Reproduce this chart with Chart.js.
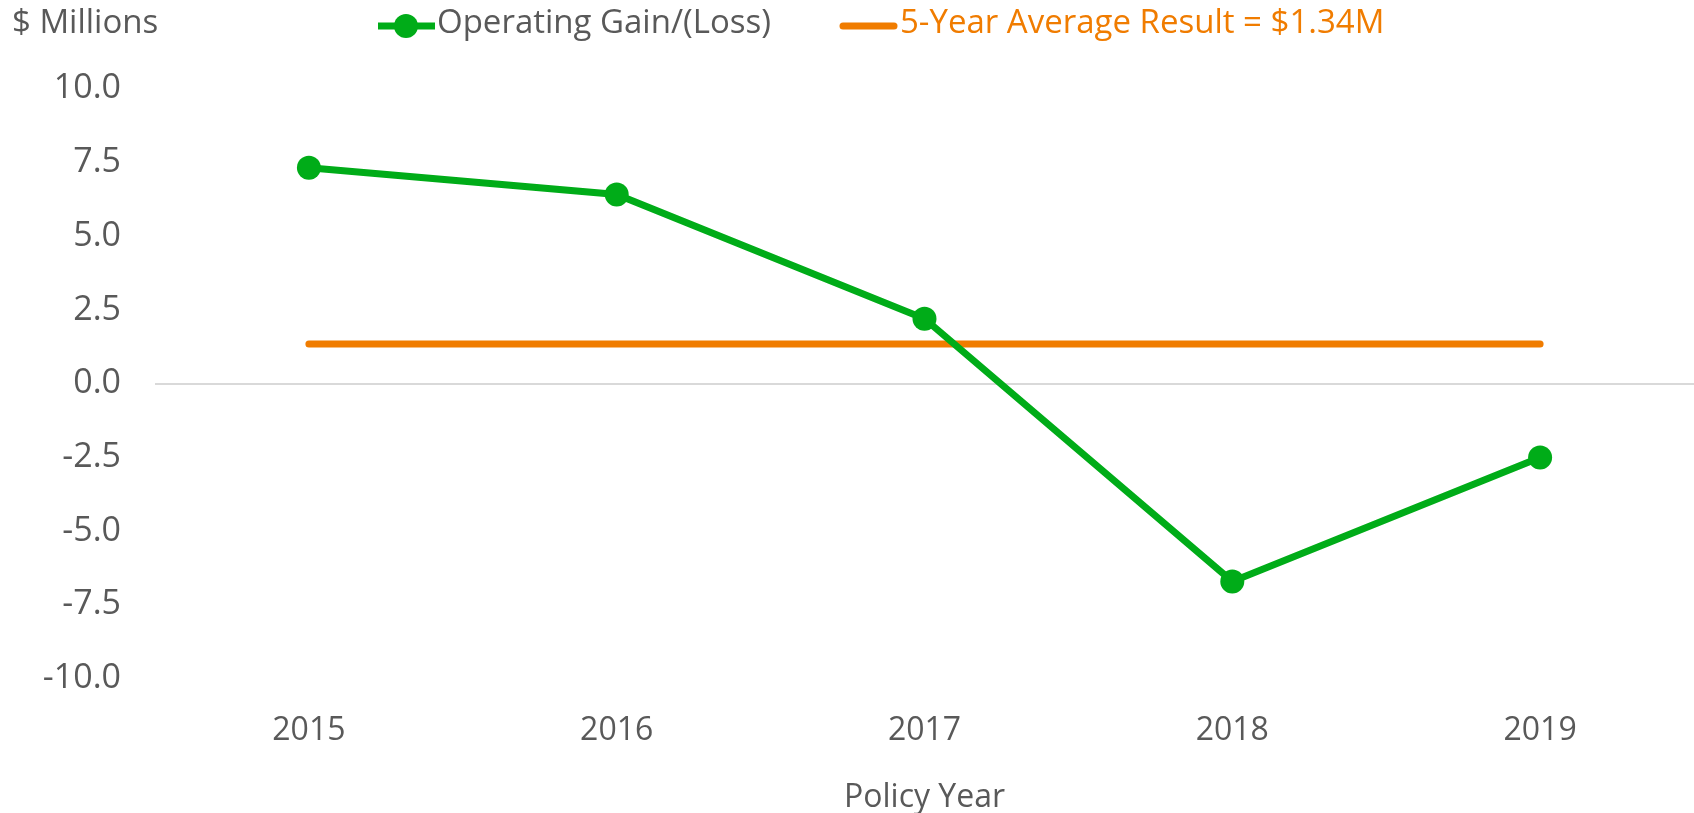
<!DOCTYPE html>
<html>
<head>
<meta charset="utf-8">
<script src="https://cdn.jsdelivr.net/npm/chart.js@4"></script>
<style>
  body { margin: 0; background: #fff; }
  #wrap { width: 1694px; height: 813px; }
</style>
</head>
<body>
<div id="wrap"><canvas id="chart" width="1694" height="813"></canvas></div>
<script>
// values
const years = ["2015", "2016", "2017", "2018", "2019"];
const operatingGain = [7.32, 6.41, 2.2, -6.71, -2.51];
const fiveYearAvg = [1.34, 1.34, 1.34, 1.34, 1.34];
const yTicks = [10, 7.5, 5, 2.5, 0, -2.5, -5, -7.5, -10];

const GREEN = "#00ac18";
const ORANGE = "#f07c00";
const GREY = "#595959";
const FONT = "'Open Sans', sans-serif";

// draws the "$ Millions" label and the legend at the top
const topText = {
  id: "topText",
  afterDraw(chart) {
    const c = chart.ctx;
    c.save();
    c.textBaseline = "middle";
    c.font = "33px " + FONT;
    c.fillStyle = GREY;
    c.fillText("$ Millions", 12, 24);

    // green line + marker
    c.strokeStyle = GREEN;
    c.lineWidth = 7;
    c.beginPath();
    c.moveTo(378, 26);
    c.lineTo(435, 26);
    c.stroke();
    c.fillStyle = GREEN;
    c.beginPath();
    c.arc(406, 26, 12, 0, Math.PI * 2);
    c.fill();
    c.fillStyle = GREY;
    c.fillText("Operating Gain/(Loss)", 437, 24);

    // orange line
    c.strokeStyle = ORANGE;
    c.lineCap = "round";
    c.beginPath();
    c.moveTo(843, 26);
    c.lineTo(894, 26);
    c.stroke();
    c.fillStyle = ORANGE;
    c.fillText("5-Year Average Result = $1.34M", 900, 24);
    c.restore();
  }
};

const ctx = document.getElementById("chart");

const myChart = new Chart(ctx, {
  type: "line",
  data: {
    labels: years,
    datasets: [
      {
        label: "5-Year Average Result = $1.34M",
        data: fiveYearAvg,
        borderColor: ORANGE,
        borderWidth: 7,
        borderCapStyle: "round",
        pointRadius: 0,
        pointHoverRadius: 0,
        order: 2,
      },
      {
        label: "Operating Gain/(Loss)",
        data: operatingGain,
        borderColor: GREEN,
        backgroundColor: GREEN,
        borderWidth: 7,
        pointRadius: 12,
        pointHoverRadius: 12,
        pointBorderWidth: 0,
        order: 1,
      },
    ],
  },
  options: {
    responsive: false,
    animation: false,
    layout: { autoPadding: false, padding: { top: 88.6, right: 0, left: 0, bottom: 0 } },
    plugins: {
      legend: { display: false },
      tooltip: { enabled: false },
    },
    scales: {
      x: {
        offset: true,
        grid: { display: false, drawTicks: false },
        border: { display: false },
        ticks: { color: GREY, font: { family: FONT, size: 32 }, padding: 33 },
        title: {
          display: true,
          text: "Policy Year",
          color: GREY,
          font: { family: FONT, size: 32 },
          padding: { top: 0, bottom: -4 },
        },
        afterFit(scale) {
          scale.height = 134.5;
          scale.paddingLeft = 0;
          scale.paddingRight = 0;
        },
      },
      y: {
        min: -10,
        max: 10,
        afterBuildTicks(scale) { scale.ticks = yTicks.map(v => ({ value: v })); },
        grid: {
          drawTicks: false,
          color: (c) => (c.tick && c.tick.value === 0 ? "#d9d9d9" : "rgba(0,0,0,0)"),
          lineWidth: 2,
        },
        border: { display: false },
        ticks: {
          color: GREY,
          font: { family: FONT, size: 34 },
          padding: 34,
          callback: (v) => Number(v).toFixed(1),
        },
        afterFit(scale) { scale.width = 155; },
      },
    },
  },
  plugins: [topText],
});
</script>
</body>
</html>
